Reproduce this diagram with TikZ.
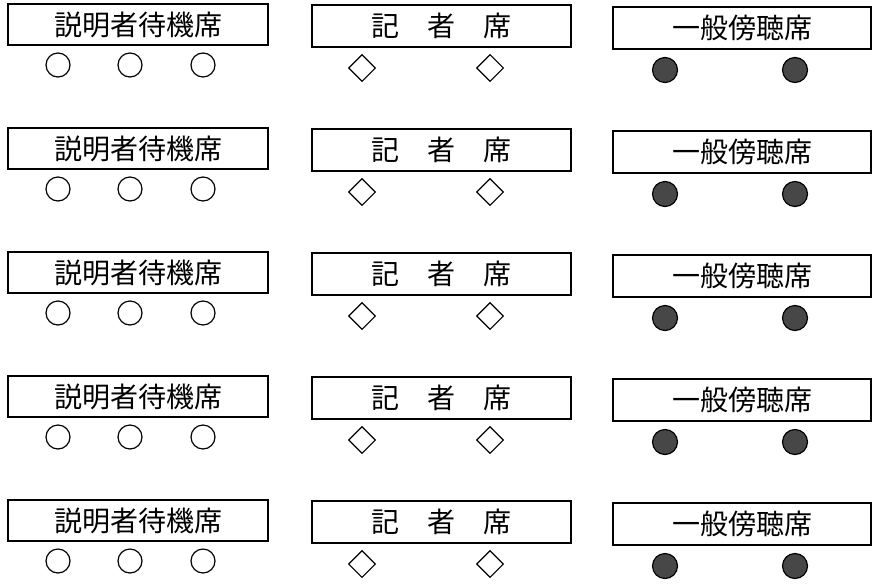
\documentclass[tikz,border=0pt]{standalone}
\usepackage{fontspec}
\setmainfont{Noto Sans CJK JP}
\usetikzlibrary{shapes.geometric}
\tikzset{
  seatbox/.style={draw=black, line width=1.3pt, fill=white, inner sep=0pt, font=\fontsize{28}{30}\selectfont},
  wseat/.style={circle, draw=black, line width=1.2pt, fill=white, minimum size=24pt, inner sep=0pt},
  dseat/.style={diamond, draw=black, line width=1.1pt, fill=white, minimum size=27pt, inner sep=0pt},
  bseat/.style={circle, draw=black, line width=1.2pt, fill=black!72, minimum size=25pt, inner sep=0pt}
}
\begin{document}
\begin{tikzpicture}[x=1pt,y=-1pt]
\useasboundingbox (0,0) rectangle (874,584);
\fill[white] (0,0) rectangle (874,584);
\foreach \r in {0,...,4}{
  \pgfmathsetmacro{\dy}{124*\r}
  % explainer waiting seats
  \node[seatbox, minimum width=260pt, minimum height=41pt] (expl\r) at (138,24.5+\dy) {説明者待機席};
  \node[wseat] (e1\r) at (58,65+\dy) {};
  \node[wseat] (e2\r) at (130,65+\dy) {};
  \node[wseat] (e3\r) at (203,65+\dy) {};
  % press seats
  \node[seatbox, minimum width=259pt, minimum height=42pt] (press\r) at (441.5,26+\dy) {記　者　席};
  \node[dseat] (p1\r) at (362,68+\dy) {};
  \node[dseat] (p2\r) at (490,68+\dy) {};
  % public gallery
  \node[seatbox, minimum width=258pt, minimum height=42pt] (pub\r) at (742,28+\dy) {一般傍聴席};
  \node[bseat] (g1\r) at (665,70+\dy) {};
  \node[bseat] (g2\r) at (795,70+\dy) {};
}
\end{tikzpicture}
\end{document}
